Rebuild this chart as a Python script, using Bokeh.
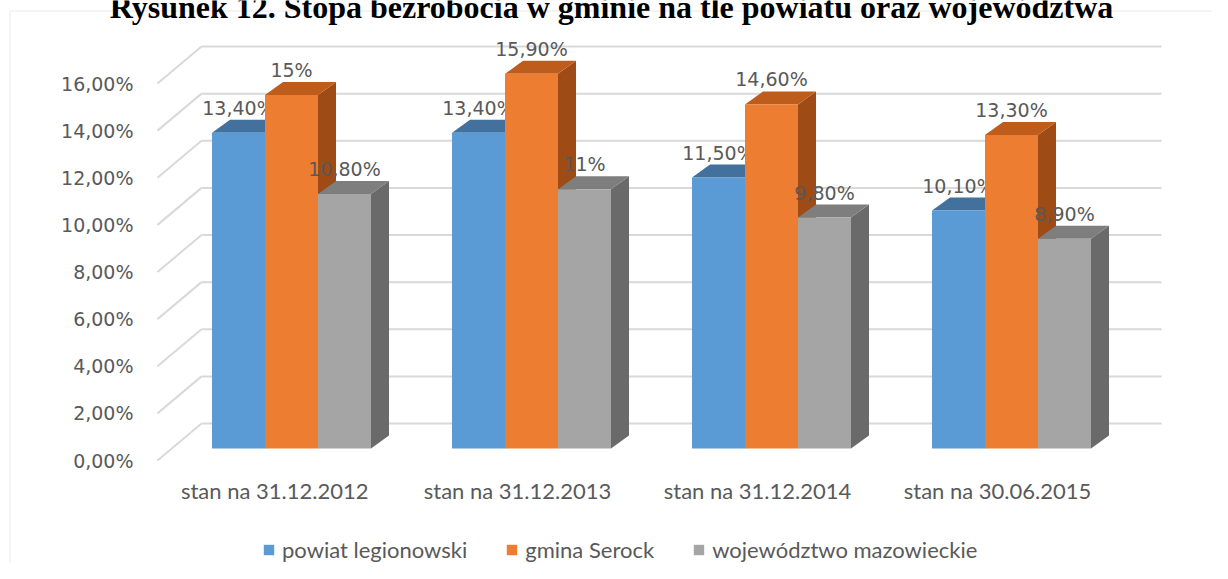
from bokeh.plotting import figure
from bokeh.models import FixedTicker, Legend, LegendItem, Range1d, Label, BoxAnnotation
from bokeh.core.properties import value
from bokeh.embed import file_html
from bokeh.resources import INLINE

# ---------------- data ----------------
title_text = "Rysunek 12. Stopa bezrobocia w gminie na tle powiatu oraz województwa"
categories = ["stan  na 31.12.2012", "stan na 31.12.2013", "stan na 31.12.2014", "stan na 30.06.2015"]
series_names = ["powiat legionowski", "gmina Serock", "województwo mazowieckie"]
powiat = [13.4, 13.4, 11.5, 10.1]
gmina = [15.0, 15.9, 14.6, 13.3]
wojewodztwo = [10.8, 11.0, 9.8, 8.9]
labels_powiat = ["13,40%", "13,40%", "11,50%", "10,10%"]
labels_gmina = ["15%", "15,90%", "14,60%", "13,30%"]
labels_woj = ["10,80%", "11%", "9,80%", "8,90%"]
y_ticks = [0, 2, 4, 6, 8, 10, 12, 14, 16]
y_tick_labels = ["0,00%", "2,00%", "4,00%", "6,00%", "8,00%", "10,00%", "12,00%", "14,00%", "16,00%"]

series_values = [powiat, gmina, wojewodztwo]
series_labels = [labels_powiat, labels_gmina, labels_woj]

# ---------------- styling / geometry (pixels) ----------------
front_colors = ["#5B9BD5", "#ED7D31", "#A5A5A5"]
top_colors = ["#41719C", "#BE5C1C", "#7E7E7E"]
side_colors = ["#3A6690", "#9E4B16", "#6A6A6A"]

W, H = 1212, 563
PX_PER_CAT = 240.0             # pixels per category on the front plane
PX_PER_PCT = 23.5625           # pixels per percent on the front plane
CAT0_X = 277                   # canvas px of category 0 (front plane)
ZERO_Y = 460                   # canvas px (from top) of 0% on front plane
AXIS_X = 140                   # where the value axis sits

WALL_DX, WALL_DY = 44, 37      # depth of the floor / side wall
BAR_OFF_DX, BAR_OFF_DY = 14, 12
BAR_DX, BAR_DY = 18, 13
BAR_W = 53

sx = 1.0 / PX_PER_CAT
sy = 1.0 / PX_PER_PCT


def dx(px):
    return (px - CAT0_X) * sx


def dy(px):
    return (ZERO_Y - px) * sy


p = figure(width=W, height=H, output_backend="svg", toolbar_location=None,
           x_range=Range1d(dx(0), dx(W)), y_range=Range1d(dy(H), dy(0)),
           x_axis_type=None, min_border_left=0, min_border_right=0,
           min_border_top=0, min_border_bottom=0,
           background_fill_color="white", border_fill_color="white")
p.outline_line_color = None
p.ygrid.visible = False

yax = p.yaxis[0]
yax.fixed_location = dx(AXIS_X)
yax.ticker = FixedTicker(ticks=y_ticks)
yax.major_label_overrides = {t: l for t, l in zip(y_ticks, y_tick_labels)}
yax.axis_line_color = None
yax.major_tick_line_color = None
yax.minor_tick_line_color = None
yax.major_tick_out = 0
yax.major_tick_in = 0
yax.major_label_standoff = 7
yax.major_label_text_font = "DejaVu Sans"
yax.major_label_text_font_size = "19px"
yax.major_label_text_color = "#595959"

# ---------------- chart area border ----------------
p.add_layout(BoxAnnotation(left=dx(9.5), right=dx(1226.5), top=dy(10.5), bottom=dy(640),
                           fill_alpha=0, line_color="#D9D9D9", line_width=2))

# ---------------- walls / gridlines ----------------
floor_left, floor_right = -0.5, 3.5
wdx, wdy = WALL_DX * sx, WALL_DY * sy
p.segment(x0=[floor_left] * len(y_ticks), y0=y_ticks,
          x1=[floor_left + wdx] * len(y_ticks), y1=[t + wdy for t in y_ticks],
          line_color="#D9D9D9", line_width=2)
p.segment(x0=[floor_left + wdx] * len(y_ticks), y0=[t + wdy for t in y_ticks],
          x1=[floor_right + wdx] * len(y_ticks), y1=[t + wdy for t in y_ticks],
          line_color="#D9D9D9", line_width=2)

# ---------------- 3D bars ----------------
bw = BAR_W * sx
box, boy = BAR_OFF_DX * sx, BAR_OFF_DY * sy
bdx, bdy = BAR_DX * sx, BAR_DY * sy
front_renderers = []
for k, vals in enumerate(series_values):
    off = (k - 1) * bw
    L = [i + off - bw / 2 + box for i in range(len(vals))]
    R = [l + bw for l in L]
    B = [boy] * len(vals)
    T = [v + boy for v in vals]
    side_xs = [[r, r + bdx, r + bdx, r] for r in R]
    side_ys = [[b, b + bdy, t + bdy, t] for b, t in zip(B, T)]
    top_xs = [[l, r, r + bdx, l + bdx] for l, r in zip(L, R)]
    top_ys = [[t, t, t + bdy, t + bdy] for t in T]
    p.patches(side_xs, side_ys, fill_color=side_colors[k], line_color=None)
    p.patches(top_xs, top_ys, fill_color=top_colors[k], line_color=None)
    fr = p.quad(left=L, right=R, bottom=B, top=T, fill_color=front_colors[k], line_color=None)
    front_renderers.append(fr)
    p.text(x=[(l + r) / 2 for l, r in zip(L, R)], y=[t + 25 * sy for t in T],
           text=series_labels[k], text_align="center", text_baseline="middle",
           text_font=value("DejaVu Sans"), text_font_size="19px", text_color="#595959")

# ---------------- category labels ----------------
p.text(x=list(range(len(categories))), y=[dy(490)] * len(categories), text=categories,
       text_align="center", text_baseline="middle",
       text_font=value("Lato"), text_font_size="22px", text_color="#595959")

# ---------------- title (cut off at the top as in the picture) ----------------
p.add_layout(Label(x=dx(611), y=dy(6), text=title_text,
                   text_align="center", text_baseline="alphabetic",
                   text_font="Liberation Serif", text_font_style="bold",
                   text_font_size="32px", text_color="black"))

# ---------------- legend ----------------
legend = Legend(items=[LegendItem(label=n, renderers=[r]) for n, r in zip(series_names, front_renderers)],
                orientation="horizontal", location=(262, 0),
                glyph_width=13, glyph_height=13, label_standoff=7, spacing=38,
                padding=0, margin=0, border_line_color=None, background_fill_alpha=0,
                label_text_font="Lato", label_text_font_size="22px", label_text_color="#595959")
p.add_layout(legend)

open("out.html", "w").write(file_html(p, INLINE))
